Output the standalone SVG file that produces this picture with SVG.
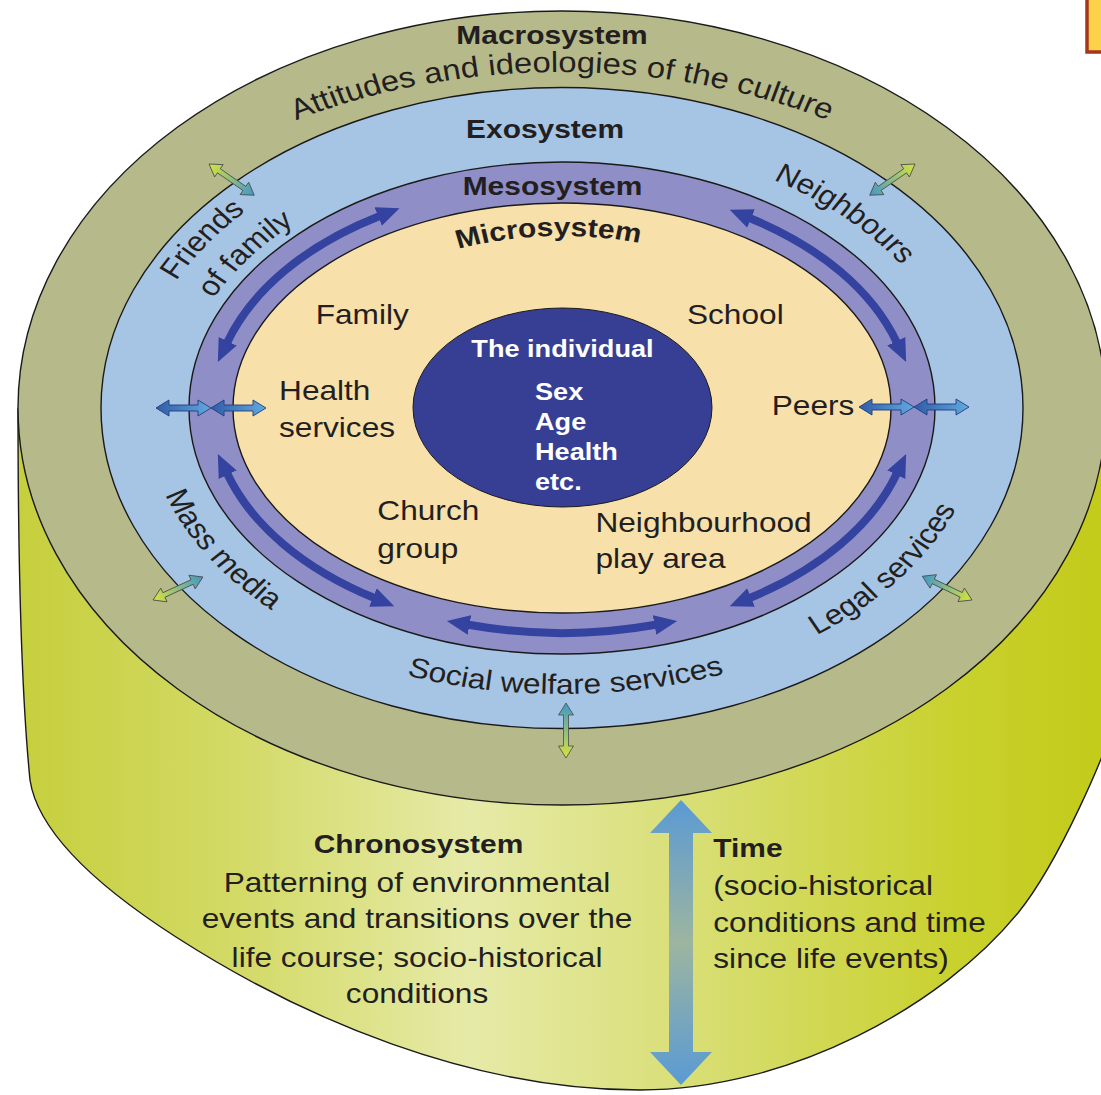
<svg xmlns="http://www.w3.org/2000/svg" width="1101" height="1095" viewBox="0 0 1101 1095">
  <style>
    .edge { stroke: #1a1a1a; stroke-width: 1.4; }
    .lbl { font-family: "Liberation Sans", Arial, Helvetica, sans-serif; fill: #231f20; }
    .reg { font-size: 28px; }
    .big { font-size: 29px; }
    .ttl { font-size: 26.5px; font-weight: bold; }
    .ind { font-size: 24px; font-weight: bold; fill: #ffffff; }
    .meso-arrow { fill: none; stroke: #3442a0; stroke-width: 8; marker-start: url(#mesoHead); marker-end: url(#mesoHead); }
    .xarrow { stroke: #1f3c7c; stroke-width: 0.9; fill: url(#gBlue); }
    .garrow { stroke: #4a4a4a; stroke-width: 0.8; fill: url(#gGreen); }
  </style>
  <defs>
    <linearGradient id="gSide" x1="0" y1="0" x2="1" y2="0">
      <stop offset="0" stop-color="#c6cf3c"/>
      <stop offset="0.2" stop-color="#d3da66"/>
      <stop offset="0.41" stop-color="#e6eaa8"/>
      <stop offset="0.6" stop-color="#d9df78"/>
      <stop offset="0.85" stop-color="#c9d12e"/>
      <stop offset="1" stop-color="#c2ca18"/>
    </linearGradient>
    <linearGradient id="gTime" gradientUnits="userSpaceOnUse" x1="0" y1="800" x2="0" y2="1085">
      <stop offset="0" stop-color="#5a9ad4"/>
      <stop offset="0.5" stop-color="#9db5a0"/>
      <stop offset="1" stop-color="#5a9ad4"/>
    </linearGradient>
    <linearGradient id="gBlue" x1="0" y1="0" x2="1" y2="0">
      <stop offset="0" stop-color="#2f5ca8"/>
      <stop offset="1" stop-color="#62aadf"/>
    </linearGradient>
    <linearGradient id="gGreen" x1="0" y1="0" x2="1" y2="0">
      <stop offset="0" stop-color="#d8e33a"/>
      <stop offset="1" stop-color="#3f97cb"/>
    </linearGradient>
    <marker id="mesoHead" markerUnits="userSpaceOnUse" viewBox="0 0 24 20" markerWidth="24" markerHeight="20" refX="1" refY="10" orient="auto-start-reverse">
      <path d="M0,0 L23,10 L0,20 Z" fill="#3442a0"/>
    </marker>
    <polygon id="blueDbl" points="0,0 13,-8 13,-3 42,-3 42,-8 55,0 42,8 42,3 13,3 13,8"/>
    <polygon id="greenDbl" points="0,0 12,-7.5 12,-2.5 43,-2.5 43,-7.5 55,0 43,7.5 43,2.5 12,2.5 12,7.5"/>
  </defs>

  <g id="chronosystem-cylinder">
    <path class="edge" fill="url(#gSide)" d="M 18 409 C 18 560, 22 700, 30 780 C 39 840, 117 899, 176 937 C 302 1018, 470 1090, 640 1090 C 790 1090, 942 1006, 1018 913 C 1056 866, 1110 750, 1120 700 L 1120 409 Z"/>
  </g>
  <g id="macrosystem">
    <ellipse class="edge" cx="562" cy="408" rx="544" ry="397" fill="#b6b98a"/>
  </g>
  <g id="exosystem">
    <ellipse class="edge" cx="562" cy="408" rx="461" ry="320.5" fill="#a6c4e4"/>
  </g>
  <g id="mesosystem">
    <ellipse class="edge" cx="562" cy="408" rx="373" ry="246" fill="#8f8ec6"/>
  </g>
  <g id="microsystem">
    <ellipse class="edge" cx="562" cy="408" rx="329" ry="205" fill="#f8e0ab"/>
  </g>
  <g id="individual">
    <ellipse stroke="#1a1a1a" stroke-width="1" cx="562.5" cy="407.5" rx="149.5" ry="99.5" fill="#373f95"/>
  </g>

  <g id="connectors">
    <g id="meso-arrows">
      <path class="meso-arrow" d="M 227.3 342.2 A 350 225 0 0 1 379.1 216.2"/>
      <path class="meso-arrow" d="M 750.1 218.2 A 350 225 0 0 1 896.7 342.2"/>
      <path class="meso-arrow" d="M 373.9 597.8 A 350 225 0 0 1 227.3 473.8"/>
      <path class="meso-arrow" d="M 896.7 473.8 A 350 225 0 0 1 750.1 597.8"/>
      <path class="meso-arrow" d="M 655.5 624.8 A 350 225 0 0 1 468.5 624.8"/>
    </g>
    <g id="boundary-arrows-blue">
      <use href="#blueDbl" class="xarrow" transform="translate(156 408)"/>
      <use href="#blueDbl" class="xarrow" transform="translate(211 408)"/>
      <use href="#blueDbl" class="xarrow" transform="translate(859 407)"/>
      <use href="#blueDbl" class="xarrow" transform="translate(914 407)"/>
    </g>
    <g id="boundary-arrows-green">
      <use href="#greenDbl" class="garrow" transform="translate(209 164) rotate(34.6)"/>
      <use href="#greenDbl" class="garrow" transform="translate(915 164) rotate(145.4)"/>
      <use href="#greenDbl" class="garrow" transform="translate(153 600) rotate(-24.7)"/>
      <use href="#greenDbl" class="garrow" transform="translate(972 600) rotate(-154.4)"/>
      <use href="#greenDbl" class="garrow" transform="translate(566 758) rotate(-90)"/>
    </g>
    <g id="time-arrow">
      <polygon fill="url(#gTime)" points="681,800 712,833 693,833 693,1052 712,1052 681,1085 650,1052 669,1052 669,833 650,833"/>
    </g>
  </g>

  <g id="labels" class="lbl" transform="translate(562 408) scale(1.13 1)">
    <defs>
      <path id="pAtt" d="M -292.9 -257.4 A 455.75 336 0 0 1 292.9 -257.4"/>
      <path id="pMicro" d="M -131.1 -144.3 A 240.7 172 0 0 1 109.3 -153.3"/>
      <path id="pFriends" d="M -376 -40.5 A 379.5 291 0 0 1 -201 -246.8"/>
      <path id="pOfFam" d="M -336.5 -42.2 A 341.2 256 0 0 1 -173.2 -220.6"/>
      <path id="pNeigh" d="M 126.0 -250.9 A 354.9 268.4 0 0 1 335.2 -88.3"/>
      <path id="pMass" d="M -367.0 29.4 A 369 281.5 0 0 0 -206.3 233.4"/>
      <path id="pLegal" d="M 180.8 249.4 A 373 285.2 0 0 0 366.2 54.4"/>
      <path id="pSocial" d="M -191.7 248.9 A 389.4 286 0 0 0 197.6 246.4"/>
    </defs>
    <g id="macro-labels">
      <text class="ttl" x="-8.85" y="-364" text-anchor="middle">Macrosystem</text>
      <text class="big" text-anchor="middle"><textPath href="#pAtt" startOffset="50%">Attitudes and ideologies of the culture</textPath></text>
    </g>
    <g id="exo-labels">
      <text class="ttl" x="-15" y="-269.7" text-anchor="middle">Exosystem</text>
      <text class="reg" text-anchor="middle"><textPath href="#pFriends" startOffset="50%">Friends</textPath></text>
      <text class="reg" text-anchor="middle"><textPath href="#pOfFam" startOffset="50%">of family</textPath></text>
      <text class="reg" text-anchor="middle"><textPath href="#pNeigh" startOffset="50%">Neighbours</textPath></text>
      <text class="reg" text-anchor="middle"><textPath href="#pMass" startOffset="50%">Mass media</textPath></text>
      <text class="reg" text-anchor="middle"><textPath href="#pLegal" startOffset="50%">Legal services</textPath></text>
      <text class="reg" text-anchor="middle"><textPath href="#pSocial" startOffset="50%">Social welfare services</textPath></text>
    </g>
    <g id="meso-labels">
      <text class="ttl" x="-8.4" y="-213" text-anchor="middle">Mesosystem</text>
    </g>
    <g id="micro-labels">
      <text class="ttl" text-anchor="middle"><textPath href="#pMicro" startOffset="50%">Microsystem</textPath></text>
      <text class="reg" x="-218" y="-84">Family</text>
      <text class="reg" x="110.6" y="-84.5">School</text>
      <text class="reg" x="-250.4" y="-8">Health</text>
      <text class="reg" x="-250.4" y="29">services</text>
      <text class="reg" x="185.6" y="7">Peers</text>
      <text class="reg" x="-163.4" y="112">Church</text>
      <text class="reg" x="-163.4" y="150">group</text>
      <text class="reg" x="29.6" y="123.7">Neighbourhood</text>
      <text class="reg" x="29.6" y="160.3">play area</text>
    </g>
    <g id="individual-labels">
      <text class="ind" x="0.4" y="-51.3" text-anchor="middle">The individual</text>
      <text class="ind" x="-23.9" y="-8">Sex</text>
      <text class="ind" x="-23.9" y="22">Age</text>
      <text class="ind" x="-23.9" y="52">Health</text>
      <text class="ind" x="-23.9" y="82">etc.</text>
    </g>
    <g id="chrono-labels">
      <text class="ttl" x="-127" y="445.3" text-anchor="middle">Chronosystem</text>
      <text class="reg" x="-128.3" y="483.7" text-anchor="middle">Patterning of environmental</text>
      <text class="reg" x="-128.3" y="520.3" text-anchor="middle">events and transitions over the</text>
      <text class="reg" x="-128.3" y="558.7" text-anchor="middle">life course; socio-historical</text>
      <text class="reg" x="-128.3" y="595" text-anchor="middle">conditions</text>
      <text class="ttl" x="133.9" y="448.7">Time</text>
      <text class="reg" x="133.9" y="487">(socio-historical</text>
      <text class="reg" x="133.9" y="523.7">conditions and time</text>
      <text class="reg" x="133.9" y="560.3">since life events)</text>
    </g>
  </g>

  <g id="corner-box">
    <rect x="1087" y="-10" width="30" height="62" fill="#fdd24b" stroke="#a5361b" stroke-width="3.5"/>
  </g>
</svg>
